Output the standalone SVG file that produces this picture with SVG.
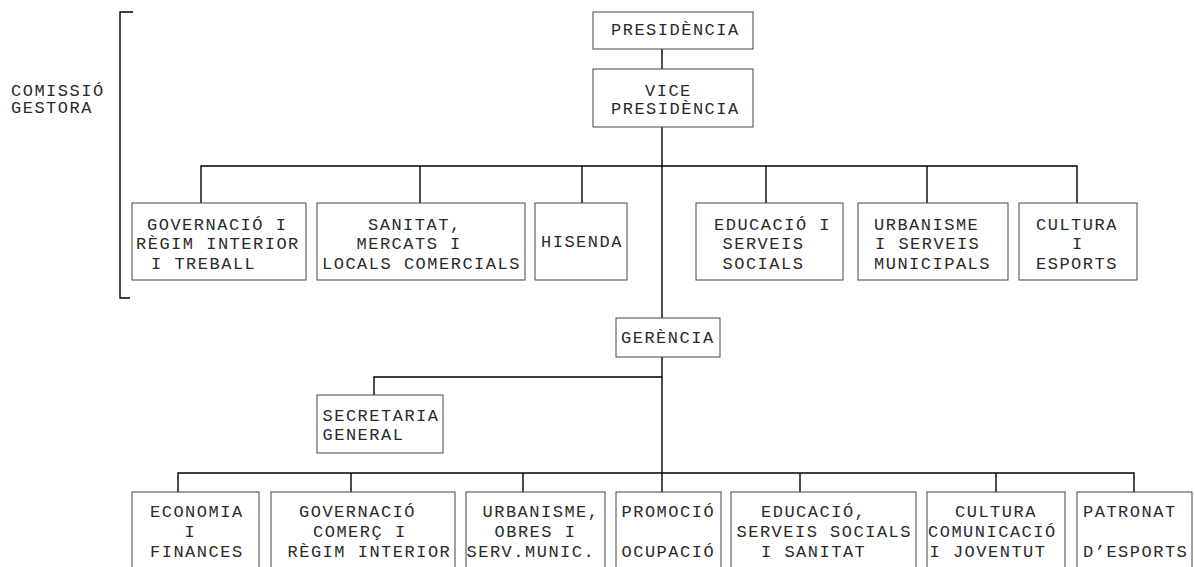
<svg xmlns="http://www.w3.org/2000/svg" width="1195" height="567" viewBox="0 0 1195 567">
<style>
.box{fill:#fff;stroke:#444;stroke-width:1}
.ln{fill:none;stroke:#000;stroke-width:1.4}
text{font-family:"Liberation Mono","Courier New",monospace;font-size:17px;letter-spacing:1.5px;fill:#2a2a2a;white-space:pre}
</style>
<rect width="1195" height="567" fill="#fff"/>
<g id="connectors">
<path class="ln" d="M133,12H120V298H130"/>
<path class="ln" d="M662,49V69M662,127V318M662,357V492"/>
<path class="ln" d="M201,203V166H1077V203M420,166V203M582,166V203M766,166V203M927,166V203"/>
<path class="ln" d="M662,377H374V395"/>
<path class="ln" d="M178,492V473H1134V492M351,473V492M523,473V492M800,473V492M996,473V492"/>
</g>
<g id="comissio"><text x="11" y="96">COMISSIÓ</text><text x="11" y="113">GESTORA</text></g>
<g id="presidencia"><rect class="box" x="593" y="12" width="160" height="37"/><text x="611" y="35">PRESIDÈNCIA</text></g>
<g id="vicepresidencia"><rect class="box" x="593" y="69" width="160" height="58"/><text x="645" y="96">VICE</text><text x="611" y="113.5">PRESIDÈNCIA</text></g>
<g id="governacio1"><rect class="box" x="132" y="203" width="174" height="77"/><text x="147" y="230">GOVERNACIÓ I</text><text x="136" y="249">RÈGIM INTERIOR</text><text x="151" y="269">I TREBALL</text></g>
<g id="sanitat"><rect class="box" x="317" y="203" width="208" height="77"/><text x="368" y="230">SANITAT,</text><text x="356.5" y="249">MERCATS I</text><text x="322" y="269">LOCALS COMERCIALS</text></g>
<g id="hisenda"><rect class="box" x="535" y="203" width="92" height="77"/><text x="541" y="247">HISENDA</text></g>
<g id="educacio1"><rect class="box" x="696" y="203" width="147" height="77"/><text x="714" y="230">EDUCACIÓ I</text><text x="722.5" y="249">SERVEIS</text><text x="722.5" y="269">SOCIALS</text></g>
<g id="urbanisme1"><rect class="box" x="858" y="203" width="150" height="77"/><text x="874" y="230">URBANISME</text><text x="875" y="249">I SERVEIS</text><text x="874" y="269">MUNICIPALS</text></g>
<g id="cultura1"><rect class="box" x="1019" y="203" width="118" height="77"/><text x="1036" y="230">CULTURA</text><text x="1072" y="249">I</text><text x="1036" y="269">ESPORTS</text></g>
<g id="gerencia"><rect class="box" x="616" y="318" width="104" height="39"/><text x="621" y="343">GERÈNCIA</text></g>
<g id="secretaria"><rect class="box" x="317" y="395" width="126" height="58"/><text x="322.5" y="421">SECRETARIA</text><text x="322.5" y="439.5">GENERAL</text></g>
<g id="economia"><rect class="box" x="132" y="492" width="127" height="90"/><text x="150" y="517">ECONOMIA</text><text x="184.5" y="537">I</text><text x="150" y="557">FINANCES</text></g>
<g id="governacio2"><rect class="box" x="271" y="492" width="184" height="90"/><text x="299" y="517">GOVERNACIÓ</text><text x="313" y="537">COMERÇ I</text><text x="287.5" y="557">RÈGIM INTERIOR</text></g>
<g id="urbanisme2"><rect class="box" x="466" y="492" width="139" height="90"/><text x="482.5" y="517">URBANISME,</text><text x="494.5" y="537">OBRES I</text><text x="466.5" y="557">SERV.MUNIC.</text></g>
<g id="promocio"><rect class="box" x="616" y="492" width="105" height="90"/><text x="621.5" y="517">PROMOCIÓ</text><text x="621.5" y="557">OCUPACIÓ</text></g>
<g id="educacio2"><rect class="box" x="731" y="492" width="185" height="90"/><text x="761" y="517">EDUCACIÓ,</text><text x="736.5" y="537">SERVEIS SOCIALS</text><text x="761" y="557">I SANITAT</text></g>
<g id="cultura2"><rect class="box" x="927" y="492" width="138" height="90"/><text x="955" y="517">CULTURA</text><text x="928" y="537">COMUNICACIÓ</text><text x="929.5" y="557">I JOVENTUT</text></g>
<g id="patronat"><rect class="box" x="1077" y="492" width="115" height="90"/><text x="1083" y="517">PATRONAT</text><text x="1083" y="557">D’ESPORTS</text></g>
</svg>
